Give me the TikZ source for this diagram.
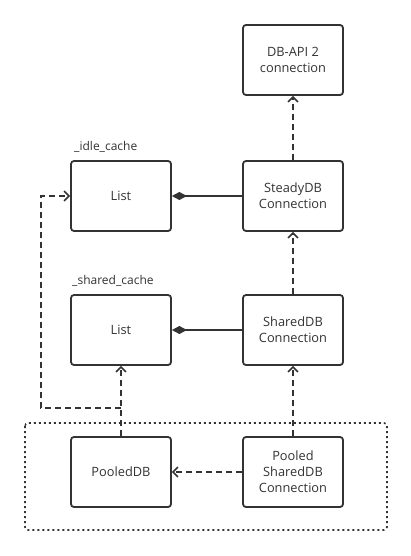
\documentclass[tikz,border=0pt]{standalone}
\usepackage{fontspec}
\setmainfont{Open Sans}
\usetikzlibrary{arrows.meta}
\definecolor{ink}{HTML}{333333}
\begin{document}
\begin{tikzpicture}[x=1pt,y=-1pt,
  box/.style={draw=ink, line width=1.8pt, rounded corners=3pt, minimum width=100pt, minimum height=70pt,
    align=center, font=\fontsize{12.8}{16}\selectfont, text=ink, inner sep=0pt},
  caption/.style={anchor=west, font=\fontsize{12}{14}\selectfont, text=ink, inner sep=0pt},
  dep/.style={draw=ink, line width=1.8pt, dash pattern=on 6pt off 4pt, -{Straight Barb[length=5pt,width=10pt,line width=1.5pt]}},
  comp/.style={draw=ink, line width=1.8pt, {Diamond[length=15pt,width=8pt]}-}]
\useasboundingbox (0,0) rectangle (411,556);
\fill[white] (0,0) rectangle (411,556);

% package boundary
\draw[ink, line width=1.6pt, dash pattern=on 2pt off 3pt, rounded corners=3pt] (25,423) rectangle (387,530);

% classes
\node[box] (dbapi)  at (293,60)  {DB-API 2\\connection};
\node[box] (steady) at (293,196) {SteadyDB\\Connection};
\node[box] (idle)   at (121,196) {List};
\node[box] (shared) at (293,330) {SharedDB\\Connection};
\node[box] (slist)  at (121,330) {List};
\node[box] (pooled) at (121,472) {PooledDB};
\node[box] (pshared) at (293,472) {Pooled\\SharedDB\\Connection};

\node[caption] (idlecap)   at (74,147) {\_idle\_cache};
\node[caption] (sharedcap) at (72,281) {\_shared\_cache};

% compositions
\draw[comp] (idle.east) -- (steady.west);
\draw[comp] (slist.east) -- (shared.west);

% dependencies
\draw[dep] (steady.north) -- (dbapi.south);
\draw[dep] (shared.north) -- (steady.south);
\draw[dep] (pshared.north) -- (shared.south);
\draw[dep] (pshared.west) -- (pooled.east);
\draw[dep] (pooled.north) -- (slist.south);
\coordinate (branch) at (121,408);
\draw[dep] (branch) -- (41,408) |- (idle.west);
\end{tikzpicture}
\end{document}
